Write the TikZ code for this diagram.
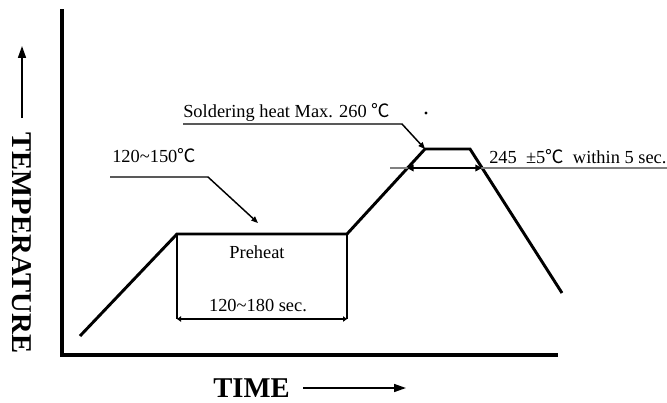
\documentclass[tikz,border=0pt]{standalone}
\usepackage{fontspec}
\setmainfont{Liberation Serif}
\newfontfamily\cjk{Noto Sans CJK SC}
\usetikzlibrary{arrows.meta}
\newcommand{\degc}{{\cjk ℃}}
\newcommand{\tld}{\symbol{"7E}}
\begin{document}
\begin{tikzpicture}[x=0.75pt,y=-0.75pt,
  axis/.style={line width=2.4pt},
  profile/.style={line width=2.2pt,line join=miter},
  boxline/.style={line width=1.5pt},
  leader/.style={line width=1.1pt},
  lbl/.style={font=\fontsize{13.8pt}{15pt}\selectfont,inner sep=0pt},
  big/.style={font=\fontsize{21.5pt}{23pt}\selectfont\bfseries,inner sep=0pt},
  tip/.style={-{Triangle[length=5pt,width=4pt]}}
]
\useasboundingbox (0,0) rectangle (667,403);
% axes
\coordinate (ytop) at (62,11);
\coordinate (orig) at (62,355);
\coordinate (xend) at (556,355);
\draw[axis,line cap=rect] (ytop) -- (orig) -- (xend);
% profile
\coordinate (p0) at (80,336);
\coordinate (p1) at (177,234);
\coordinate (p2) at (347,234);
\coordinate (p3) at (425,149);
\coordinate (p4) at (470,149);
\coordinate (p5) at (562,293);
\draw[profile] (p0) -- (p1) -- (p2) -- (p3) -- (p4) -- (p5);
% preheat box
\coordinate (b1) at (177,319);
\coordinate (b2) at (347,319);
\draw[boxline] (p1) -- (b1);
\draw[boxline] (p2) -- (b2);
\draw[leader,{Triangle[length=3pt,width=4pt]}-{Triangle[length=3pt,width=4pt]}] (b1) -- (b2);
\node[lbl,anchor=base] (preheat) at (257,258) {Preheat};
\node[lbl,anchor=base] (ptime) at (258,311) {120\tld180 sec.};
% 120~150 label
\node[lbl,anchor=base west] (t150) at (112,162) {120\tld150\degc};
\coordinate (l1a) at (110,177);
\coordinate (l1b) at (208,177);
\coordinate (l1c) at (258,223);
\draw[leader,tip] (l1a) -- (l1b) -- (l1c);
% soldering heat label
\node[lbl,anchor=base west] (tmax) at (183,117) {Soldering heat Max. 260 \degc};
\coordinate (l2a) at (183,124);
\coordinate (l2b) at (402,124);
\draw[leader,tip] (l2a) -- (l2b) -- (p3);
\fill (426,113) circle (1.2pt);
% 245 label
\node[lbl,anchor=base west] (t245) at (489,163) {245 \ ±5\degc\ \ within 5 sec.};
\coordinate (g1) at (390,168);
\coordinate (g2) at (667,168);
\draw[gray,line width=1pt] (g1) -- (g2);
\coordinate (i1) at (407,168);
\coordinate (i2) at (482,168);
\draw[leader,{Triangle[length=5pt,width=5pt]}-{Triangle[length=5pt,width=5pt]}] (i1) -- (i2);
% axis titles
\node[big,rotate=-90,anchor=center] (temp) at (22,243) {TEMPERATURE};
\coordinate (ta) at (22,118);
\coordinate (tb) at (22,46);
\draw[line width=1.2pt,-{Triangle[length=9pt,width=6pt]}] (ta) -- (tb);
\node[big,anchor=base west] (time) at (213,397) {TIME};
\coordinate (xa) at (303,388);
\coordinate (xb) at (406,388);
\draw[line width=1.2pt,-{Triangle[length=9pt,width=6pt]}] (xa) -- (xb);
\end{tikzpicture}
\end{document}
